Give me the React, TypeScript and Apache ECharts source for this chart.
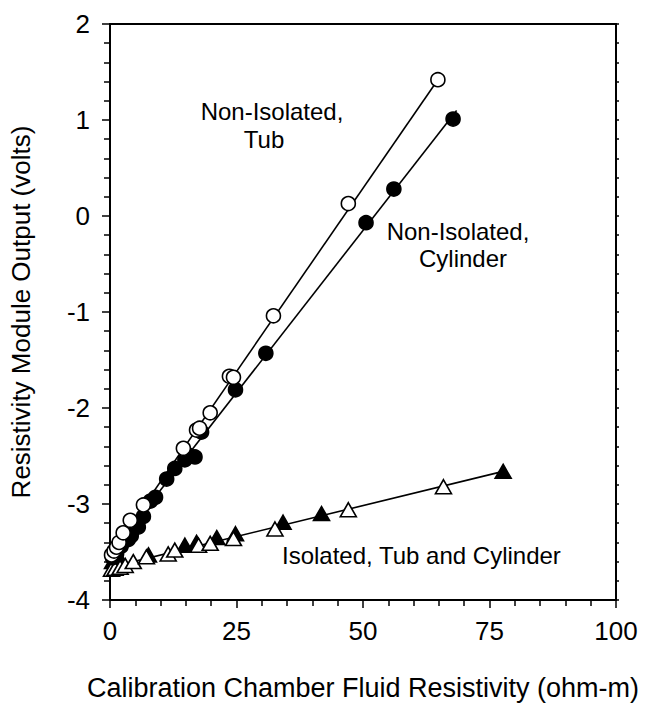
import React, { useEffect, useRef } from "react";
import * as echarts from "echarts";

const xTicks = [0, 25, 50, 75, 100];
const yTicks = [-4, -3, -2, -1, 0, 1, 2];

// Non-Isolated, Tub (open circles)
const tubPoints: [number, number][] = [
  [0.3, -3.53], [0.8, -3.49], [1.3, -3.45], [1.8, -3.40], [2.6, -3.30], [4.0, -3.17],
  [6.6, -3.01], [14.5, -2.42], [17.1, -2.23], [17.7, -2.21], [19.8, -2.05],
  [23.6, -1.67], [24.4, -1.68], [32.3, -1.04], [47.1, 0.13], [64.8, 1.42],
];
// Non-Isolated, Cylinder (filled circles)
const cylPoints: [number, number][] = [
  [0.5, -3.56], [1.3, -3.52], [2.2, -3.44], [3.6, -3.37], [4.2, -3.33], [5.6, -3.24],
  [6.6, -3.13], [8.0, -2.97], [9.0, -2.93], [11.2, -2.74], [12.8, -2.63], [14.8, -2.54],
  [15.5, -2.49], [16.8, -2.51], [18.1, -2.25], [24.8, -1.81], [30.8, -1.43],
  [50.6, -0.07], [56.1, 0.28], [67.8, 1.01],
];
// Isolated, Tub (open triangles)
const isoTubPoints: [number, number][] = [
  [0.3, -3.68], [1.0, -3.67], [2.0, -3.66], [3.0, -3.64], [4.6, -3.60], [7.2, -3.55],
  [11.5, -3.52], [12.8, -3.48], [17.5, -3.43], [19.8, -3.41], [24.4, -3.36],
  [32.6, -3.26], [47.1, -3.06], [65.9, -2.82],
];
// Isolated, Cylinder (filled triangles)
const isoCylPoints: [number, number][] = [
  [0.5, -3.60], [1.5, -3.61], [2.5, -3.62], [7.6, -3.53], [14.8, -3.43], [17.1, -3.40],
  [21.1, -3.35], [24.8, -3.31], [34.2, -3.19], [41.8, -3.10], [77.7, -2.66],
];
// Fitted lines (endpoints)
const tubFit: [number, number][] = [[0, -3.53], [64.8, 1.42]];
const cylFit: [number, number][] = [[0, -3.53], [68.5, 1.1]];
const isoFit: [number, number][] = [[0, -3.66], [77.7, -2.66]];

const FONT = "'Liberation Sans', Arial, Helvetica, sans-serif";

export default function App() {
  const ref = useRef<HTMLDivElement>(null);
  useEffect(() => {
    document.body.style.margin = "0";
    const chart = echarts.init(ref.current!, null, { renderer: "svg" });
    const lineSeries = (data: [number, number][]) => ({
      type: "line",
      data,
      symbol: "none",
      lineStyle: { color: "#000", width: 1.6 },
      z: 2,
    });
    const scatter = (data: [number, number][], symbol: string, fill: string, size: any) => ({
      type: "scatter",
      data,
      symbol,
      symbolSize: size,
      itemStyle: { color: fill, borderColor: "#000", borderWidth: 1.6, opacity: 1 },
      z: 3,
    });
    const label = (text: string, x: number, y: number, align: string) => ({
      type: "text", x, y,
      style: { text, fill: "#000", font: `24px ${FONT}`, textAlign: align, textVerticalAlign: "middle" },
    });
    chart.setOption({
      animation: false,
      textStyle: { fontFamily: FONT },
      grid: {
        left: 110, right: 36, top: 24, bottom: 106,
        show: true, borderColor: "#000", borderWidth: 2, backgroundColor: "transparent",
      },
      xAxis: {
        type: "value", min: xTicks[0], max: xTicks[xTicks.length - 1], interval: 25,
        name: "Calibration Chamber Fluid Resistivity (ohm-m)",
        nameLocation: "middle", nameGap: 74,
        nameTextStyle: { fontSize: 27, color: "#000", fontFamily: FONT },
        axisLine: { show: true, onZero: false, lineStyle: { color: "#000", width: 2 } },
        axisTick: { show: true, inside: false, length: 8, lineStyle: { color: "#000", width: 1.5 } },
        minorTick: { show: true, splitNumber: 5, length: 6, lineStyle: { color: "#000", width: 1.5 } },
        axisLabel: { fontSize: 26, color: "#000", margin: 18, fontFamily: FONT },
        splitLine: { show: false },
      },
      yAxis: [
        {
          type: "value", min: yTicks[0], max: yTicks[yTicks.length - 1], interval: 1,
          name: "Resistivity Module Output (volts)",
          nameLocation: "middle", nameGap: 76, nameRotate: 90,
          nameTextStyle: { fontSize: 26, color: "#000", fontFamily: FONT },
          axisLine: { show: true, onZero: false, lineStyle: { color: "#000", width: 2 } },
          axisTick: { show: true, inside: false, length: 8, lineStyle: { color: "#000", width: 1.5 } },
          minorTick: { show: true, splitNumber: 5, length: 6, lineStyle: { color: "#000", width: 1.5 } },
          axisLabel: { fontSize: 26, color: "#000", margin: 20, fontFamily: FONT },
          splitLine: { show: false },
        },
        {
          type: "value", position: "right", min: yTicks[0], max: yTicks[yTicks.length - 1], interval: 1,
          axisLine: { show: true, onZero: false, lineStyle: { color: "#000", width: 2 } },
          axisTick: { show: true, inside: false, length: 3, lineStyle: { color: "#000", width: 1.5 } },
          minorTick: { show: true, splitNumber: 5, length: 3, lineStyle: { color: "#000", width: 1.5 } },
          axisLabel: { show: false },
          splitLine: { show: false },
        },
      ],
      series: [
        lineSeries(tubFit),
        lineSeries(cylFit),
        lineSeries(isoFit),
        scatter(isoCylPoints, "triangle", "#000", [16, 14]),
        scatter(isoTubPoints, "triangle", "#fff", [16, 14]),
        scatter(cylPoints, "circle", "#000", 14),
        scatter(tubPoints, "circle", "#fff", 14),
      ],
      graphic: [
        label("Non-Isolated,", 272, 111, "center"),
        label("Tub", 264, 139, "center"),
        label("Non-Isolated,", 458, 231, "center"),
        label("Cylinder", 463, 258, "center"),
        label("Isolated, Tub and Cylinder", 282, 555, "left"),
      ],
    });
    return () => chart.dispose();
  }, []);
  return <div ref={ref} style={{ width: 652, height: 706 }} />;
}
